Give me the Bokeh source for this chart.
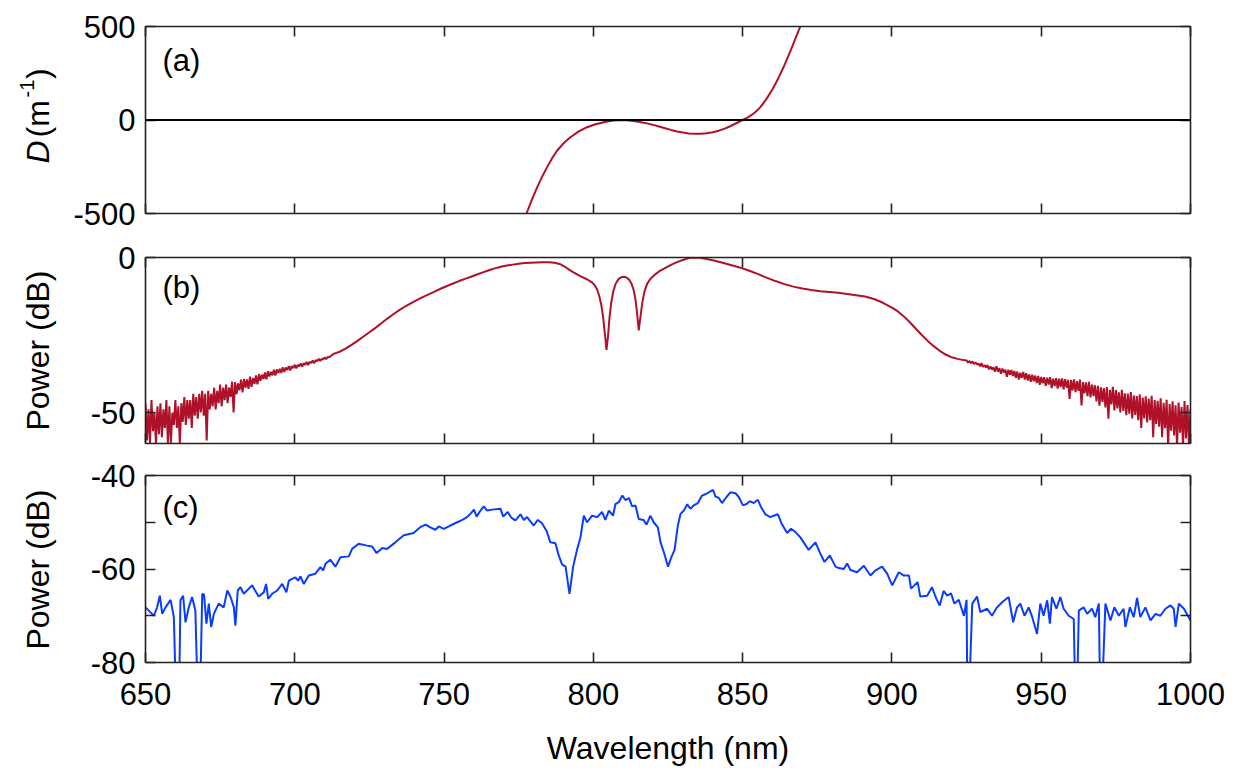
from math import pi

from bokeh.core.properties import value
from bokeh.embed import file_html
from bokeh.layouts import column, row
from bokeh.models import FixedTicker, Label, LinearAxis, Range1d, Span
from bokeh.plotting import figure
from bokeh.resources import INLINE

FONT = "Liberation Sans"
RED = "#AF1228"
BLUE = "#0A3CFF"
AXIS = "#222222"

# ---------------- shared wavelength axis ----------------
wl_ticks = [650, 700, 750, 800, 850, 900, 950, 1000]

# ---------------- (a) dispersion D (1/m) ----------------
disp_wl = [777.6, 779.4, 781.2, 782.85, 784.5, 786.2, 787.9, 790.1, 792.3,
           795.1, 797.9, 800.7, 803.5, 805.15, 806.8, 808.4, 810, 812, 814,
           816, 818, 820, 822, 824, 826, 828, 830, 832, 834, 836, 838, 840,
           842, 844, 846, 848, 850, 851, 852, 853, 854, 855, 856, 858, 860,
           862, 864, 866, 868, 869.3]
disp_val = [-500, -427, -359, -303, -252, -204, -163, -123, -92, -61, -38.5,
            -23, -12, -6.7, -3, -0.8, 0, -3, -7, -12, -18, -26, -35, -44,
            -53, -61, -67, -72, -74, -74, -71, -65, -57, -46, -32, -16, 0, 8,
            17, 27, 39, 53, 70, 113, 164, 225, 293, 368, 448, 500]
disp_ticks = [-500, 0, 500]
disp_tick_text = {-500: "-500", 0: "0", 500: "500"}

# ---------------- (b) simulated spectrum (dB) ----------------
# noisy short-wavelength wing, 0.5 nm spacing starting at 650 nm
wing_left_start = 650.0
wing_left_db = [
    -47, -59, -49, -60, -46, -56, -50, -60, -48, -57,
    -47, -58, -49, -55, -46, -60, -48, -60, -50, -54,
    -46, -55, -48, -60, -47, -53, -45, -54, -46, -52,
    -46, -55, -44, -51, -45, -52, -44, -50, -43, -51,
    -44, -59, -43, -49, -44, -48, -42, -49, -43, -47,
    -41, -48, -42, -46, -41, -47, -42, -45, -40, -50,
    -40.2, -44.1, -40.6, -42.8, -39.4, -43.5, -39.2, -42.0, -39.3, -42.4,
    -38.4, -41.7, -38.9, -40.8, -38.0, -40.9, -37.6, -39.8, -37.8, -39.2,
    -37.1, -39.3, -36.7, -38.4, -36.9, -38.0, -36.2, -38.1, -36.1, -37.3,
    -35.9, -37.2, -35.4, -36.9, -35.5, -36.3, -35.0, -36.4, -35.0, -35.7,
    -34.6, -35.8, -34.6, -35.1, -34.2, -35.2, -34.1, -34.6, -33.7, -34.7,
    -33.6, -34.0, -33.2, -34.1, -33.1, -33.5, -32.7, -33.4, -32.7, -32.9,
    -32.2, -32.8, -32.1, -32.2,
]
# smooth central part
core_wl = [713, 715, 717, 719, 721, 723, 725, 727, 729, 731, 733, 735, 737,
           739, 741, 743, 745, 747, 749, 751, 753, 755, 757, 759, 761, 763,
           765, 767, 769, 771, 773, 775, 777, 779, 781, 783, 785, 787, 789,
           790.5, 792, 793.5, 795, 796.5, 798, 799.5, 800.5, 801.3, 802,
           802.7, 803.3, 803.9, 804.4, 804.9, 805.4, 806, 806.7, 807.5, 808.5,
           809.5, 810.3, 811.2, 812, 812.8, 813.5, 814.1, 814.6, 815.2, 815.8,
           816.4, 817.1, 818, 819, 820.5, 822, 824, 826, 828, 830, 832, 833.6,
           835.5, 837.5, 840, 843, 846, 849, 852, 855, 858, 861, 864, 867,
           870, 873, 876, 879, 882, 885, 888, 891, 894, 897, 900, 902, 904,
           906, 908, 910, 912, 914, 916, 918, 920, 922, 924]
core_db = [-31.1, -30.4, -29.4, -28.2, -26.9, -25.5, -24.1, -22.7, -21.2,
           -19.7, -18.3, -17.0, -15.8, -14.7, -13.7, -12.7, -11.8, -10.9,
           -10.0, -9.2, -8.4, -7.6, -6.9, -6.2, -5.5, -4.8, -4.1, -3.5, -3.0,
           -2.6, -2.3, -2.0, -1.8, -1.7, -1.6, -1.5, -1.5, -1.7, -2.2, -3.0,
           -4.0, -4.9, -5.7, -6.4, -7.1, -8.0, -9.0, -10.4, -12.5, -15.5,
           -19.5, -25.0, -29.8, -25.5, -19.5, -14.5, -10.8, -8.4, -6.9, -6.3,
           -6.2, -6.5, -7.2, -8.5, -10.5, -13.5, -17.5, -23.5, -19.0, -14.5,
           -11.0, -8.5, -7.0, -5.6, -4.5, -3.4, -2.4, -1.5, -0.8, -0.2, 0.0,
           -0.1, -0.4, -0.9, -1.6, -2.4, -3.2, -4.2, -5.3, -6.5, -7.6, -8.6,
           -9.4, -10.0, -10.5, -10.9, -11.1, -11.4, -11.8, -12.2, -12.6,
           -13.4, -14.6, -16.2, -17.4, -19.0, -20.9, -23.0, -25.0, -26.9,
           -28.6, -30.1, -31.3, -32.2, -32.7, -33.1]
# noisy long-wavelength wing, 0.5 nm spacing starting at 925 nm
wing_right_start = 925.0
wing_right_db = [
    -33.2, -33.9, -33.4, -34.1, -33.5, -34.4, -33.8, -34.5, -34.2, -35.1,
    -34.1, -35.3, -34.7, -35.5, -34.7, -36.1, -35.1, -36.2, -35.4, -36.8,
    -35.1, -36.8, -35.7, -37.5, -35.8, -37.1, -36.2, -38.5, -36.2, -37.8,
    -36.3, -38.2, -36.6, -38.8, -36.8, -39.4, -37.2, -38.8, -36.9, -39.4,
    -37.3, -39.7, -37.7, -40.1, -37.8, -39.9, -38.1, -40.5, -38.2, -41.1,
    -38.5, -40.6, -38.6, -41.4, -38.8, -41.0, -38.6, -42.1, -39.1, -41.5,
    -38.9, -42.3, -39.1, -41.8, -39.0, -42.5, -39.2, -42.0, -39.5, -45.6,
    -39.5, -42.9, -39.3, -43.4, -39.9, -43.0, -39.4, -47.7, -40.2, -43.8,
    -40.3, -44.7, -40.1, -45.1, -41.0, -44.7, -41.2, -46.4, -41.4, -47.8,
    -41.9, -46.6, -42.1, -48.4, -41.8, -52.0, -42.7, -47.4, -41.7, -49.3,
    -42.8, -48.7, -43.5, -50.0, -42.7, -49.5, -43.8, -50.9, -43.9, -50.4,
    -43.4, -51.9, -44.5, -50.8, -44.7, -52.5, -44.1, -55.0, -45.2, -51.9,
    -44.8, -53.2, -45.5, -52.5, -44.6, -58.0, -46.0, -53.7, -46.2, -54.6,
    -45.4, -58.0, -46.9, -55.1, -45.9, -61.0, -47.3, -55.9, -46.4, -57.4,
    -47.7, -61.0, -46.8, -56.5, -48.2, -61.0, -46.3, -58.4, -47.6, -61.0,
    -49.0,
]
sim_ticks = [-50, 0]
sim_tick_text = {-50: "-50", 0: "0"}

# ---------------- (c) measured spectrum (dB) ----------------
meas_wl = [
    650.0, 651.1, 652.8, 653.9, 654.8, 655.6, 656.7, 658.4, 659.5, 660.3,
    661.2, 661.7, 662.6, 663.4, 664.5, 665.6, 666.7, 667.6, 668.2, 669.0,
    669.6, 670.4, 671.2, 672.0, 672.9, 674.5, 676.2, 677.4, 678.5, 679.6,
    680.1, 680.9, 681.8, 682.9, 685.7, 687.9, 689.6, 690.4, 691.1, 692.4,
    694.1, 695.8, 697.2, 698.0, 699.1, 700.2, 701.1, 701.9, 703.0, 704.7,
    706.9, 708.6, 709.5, 710.3, 711.9, 713.6, 715.3, 718.1, 719.2, 721.4,
    724.2, 725.9, 727.4, 729.3, 730.9, 733.7, 736.5, 739.8, 741.9, 743.8,
    745.4, 747.1, 748.2, 749.9, 752.1, 754.4, 756.1, 757.7, 758.8, 760.0,
    760.9, 762.2, 763.3, 764.4, 766.1, 768.9, 769.8, 771.3, 772.5, 773.9,
    775.6, 776.7, 777.8, 780.0, 781.4, 782.8, 784.3, 785.6, 787.3, 788.4,
    789.5, 790.7, 792.0, 793.2, 794.6, 795.7, 796.8, 797.9, 799.6, 801.3,
    802.9, 804.0, 805.2, 806.6, 807.4, 808.5, 809.7, 810.8, 811.9, 813.0,
    814.1, 815.2, 816.8, 817.8, 819.1, 820.2, 821.6, 822.5, 823.8, 825.0,
    826.1, 827.2, 828.3, 829.2, 830.3, 831.4, 832.5, 833.6, 835.0, 836.4,
    837.9, 839.2, 840.1, 840.9, 842.0, 843.1, 844.6, 845.9, 847.6, 848.7,
    850.1, 851.3, 852.4, 853.7, 855.1, 856.2, 857.6, 859.3, 860.4, 861.8,
    863.2, 864.9, 866.2, 867.7, 869.4, 872.1, 874.4, 876.1, 877.4, 879.2,
    881.1, 882.2, 883.9, 885.0, 886.1, 888.3, 890.6, 892.8, 894.5, 896.7,
    898.4, 900.1, 902.3, 904.0, 905.7, 906.4, 908.6, 909.5, 911.8, 913.4,
    914.9, 916.0, 917.3, 918.5, 919.8, 920.9, 922.4, 924.1, 925.0, 925.3,
    925.7, 926.9, 928.5, 929.6, 931.9, 933.5, 935.2, 936.9, 939.1, 940.6,
    941.9, 943.0, 944.4, 945.8, 947.0, 948.6, 949.7, 950.8, 952.0, 952.9,
    953.6, 955.1, 956.4, 957.5, 959.2, 960.9, 961.5, 961.9, 962.6, 964.2,
    965.4, 967.0, 968.1, 969.3, 969.8, 970.2, 971.5, 973.2, 974.5, 976.0,
    977.6, 978.2, 979.7, 981.0, 982.1, 983.2, 984.9, 986.6, 988.3, 989.9,
    991.6, 993.3, 994.4, 995.0, 996.1, 997.8, 1000.0,
]
meas_db = [
    -68.2, -68.9, -70.0, -68.2, -65.7, -69.6, -68.2, -66.6, -70.3, -90,
    -90, -66.7, -65.7, -71.4, -68.2, -66.0, -68.9, -90, -90, -65.3,
    -65.5, -71.7, -67.4, -72.4, -69.6, -67.4, -68.2, -64.6, -66.0, -68.2,
    -72.1, -64.6, -63.9, -65.3, -63.5, -65.9, -65.0, -63.2, -66.4, -65.3,
    -64.6, -63.2, -65.0, -62.5, -62.1, -61.8, -62.5, -61.6, -63.2, -61.4,
    -61.0, -59.6, -60.3, -58.9, -58.0, -59.5, -57.5, -57.3, -55.7, -54.6,
    -55.0, -55.2, -56.6, -55.5, -55.7, -54.3, -52.8, -52.3, -51.1, -50.5,
    -51.1, -51.6, -50.9, -51.4, -50.7, -50.0, -49.5, -48.9, -48.2, -47.3,
    -48.8, -47.5, -46.6, -47.5, -47.3, -47.1, -48.8, -47.8, -49.0, -49.6,
    -48.3, -49.5, -48.9, -50.7, -49.5, -50.2, -51.8, -54.3, -54.5, -57.1,
    -59.0, -59.5, -65.3, -59.6, -55.7, -53.2, -48.6, -50.0, -48.6, -48.9,
    -47.8, -49.5, -47.5, -48.6, -46.1, -45.7, -44.3, -45.3, -44.8, -46.6,
    -46.4, -49.3, -49.5, -50.5, -48.6, -50.0, -51.1, -54.3, -56.8, -59.5,
    -57.5, -55.9, -50.7, -48.2, -47.5, -46.2, -47.1, -46.4, -45.9, -44.3,
    -43.9, -43.4, -43.1, -44.5, -44.8, -45.9, -44.6, -43.6, -43.8, -44.6,
    -46.4, -46.1, -45.5, -45.9, -45.2, -46.8, -48.3, -48.9, -48.6, -48.3,
    -50.5, -52.3, -51.4, -52.1, -53.3, -55.9, -54.3, -56.8, -58.5, -57.1,
    -59.5, -59.8, -60.0, -58.8, -60.2, -60.7, -59.3, -61.4, -60.3, -59.5,
    -61.0, -63.5, -60.7, -61.4, -61.4, -64.2, -62.8, -65.9, -65.7, -63.9,
    -66.4, -67.8, -64.7, -65.7, -65.2, -67.4, -66.6, -70.0, -66.6, -90,
    -90, -67.4, -65.9, -69.2, -68.5, -70.0, -68.2, -67.1, -66.0, -71.4,
    -68.2, -67.4, -70.0, -68.2, -70.3, -73.9, -67.4, -70.0, -66.7, -71.7,
    -66.0, -68.5, -66.0, -68.5, -70.0, -70.7, -90, -90, -68.9, -68.2,
    -69.6, -68.5, -70.3, -67.4, -90, -90, -67.4, -71.0, -68.2, -70.0,
    -68.5, -72.4, -68.2, -70.3, -66.2, -70.3, -68.2, -71.0, -69.6, -70.0,
    -68.5, -67.8, -68.5, -72.4, -67.4, -68.5, -71.0,
]
meas_ticks = [-80, -70, -60, -50, -40]
meas_tick_text = {-80: "-80", -70: "", -60: "-60", -50: "", -40: "-40"}

# assemble the simulated spectrum on one wavelength axis
sim_wl = ([wing_left_start + 0.5 * i for i in range(len(wing_left_db))]
          + core_wl
          + [wing_right_start + 0.5 * i for i in range(len(wing_right_db))])
sim_db = wing_left_db + core_db + wing_right_db

TOTAL_H = 783
LABEL_W = 70


def style_axis(ax, ticks, show_labels=True, overrides=None):
    ax.ticker = FixedTicker(ticks=ticks)
    ax.major_tick_in = 10
    ax.major_tick_out = 0
    ax.minor_tick_line_color = None
    ax.axis_line_color = AXIS
    ax.axis_line_width = 1.6
    ax.major_tick_line_color = AXIS
    ax.major_tick_line_width = 1.6
    ax.major_label_text_font = FONT
    if show_labels:
        ax.major_label_text_color = "black"
        ax.major_label_text_font_size = "31px"
    else:
        # tick marks only: labels are neither drawn nor given room
        ax.major_label_text_color = None
        ax.major_label_text_font_size = "1px"
        ax.major_label_standoff = 0
    if overrides:
        ax.major_label_overrides = overrides


def panel(y_lo, y_hi, y_ticks, frame_h, top, bottom, x_labels, y_overrides):
    p = figure(frame_width=1045, frame_height=frame_h,
               x_range=Range1d(650, 1000), y_range=Range1d(y_lo, y_hi),
               output_backend="svg", toolbar_location=None,
               x_axis_location=None, y_axis_location=None,
               min_border_left=145 - LABEL_W, min_border_right=61,
               min_border_top=top, min_border_bottom=bottom)
    p.grid.visible = False
    p.outline_line_color = None
    bottom_ax = LinearAxis()
    style_axis(bottom_ax, wl_ticks, show_labels=x_labels)
    if x_labels:
        bottom_ax.major_label_standoff = 20
    p.add_layout(bottom_ax, "below")
    left_ax = LinearAxis()
    style_axis(left_ax, y_ticks, overrides=y_overrides)
    left_ax.major_label_standoff = 10
    p.add_layout(left_ax, "left")
    top_ax = LinearAxis()
    style_axis(top_ax, wl_ticks, show_labels=False)
    p.add_layout(top_ax, "above")
    right_ax = LinearAxis()
    style_axis(right_ax, y_ticks, show_labels=False)
    p.add_layout(right_ax, "right")
    return p, bottom_ax


def tag(p, text, y):
    p.add_layout(Label(x=655.7, y=y, text=text, text_align="left",
                       text_baseline="middle", text_font=FONT,
                       text_font_size="31px", text_color="black"))


# (a)
pa, _ = panel(-500, 500, disp_ticks, 187, 26, 22, False, disp_tick_text)
pa.add_layout(Span(location=0, dimension="width", line_color="black", line_width=2.2))
pa.line(disp_wl, disp_val, line_color=RED, line_width=2)
tag(pa, "(a)", 318)

# (b)
pb, _ = panel(-60, 0, sim_ticks, 186, 22, 16, False, sim_tick_text)
pb.line(sim_wl, sim_db, line_color=RED, line_width=2)
tag(pb, "(b)", -9.7)

# (c)
pc, pc_bottom = panel(-80, -40, meas_ticks, 187, 16, 121, True, meas_tick_text)
pc.line(meas_wl, meas_db, line_color=BLUE, line_width=2)
tag(pc, "(c)", -46.8)
pc_bottom.axis_label = "Wavelength (nm)"
pc_bottom.axis_label_text_font = FONT
pc_bottom.axis_label_text_font_size = "32px"
pc_bottom.axis_label_text_font_style = "normal"
pc_bottom.axis_label_text_color = "black"
pc_bottom.axis_label_standoff = 22

# strip on the left carrying the rotated y-axis titles (pixel coordinates, origin bottom-left)
lab = figure(width=LABEL_W, height=TOTAL_H, x_range=Range1d(0, LABEL_W),
             y_range=Range1d(0, TOTAL_H), output_backend="svg",
             toolbar_location=None, x_axis_location=None, y_axis_location=None,
             min_border=0)
lab.grid.visible = False
lab.outline_line_color = None

BASE_X = 37


def vtext(x, y, text, size="32px", style="normal", align="left"):
    lab.text(x=[x], y=[y], text=[text], angle=pi / 2, text_align=align,
             text_baseline="alphabetic", text_font=value(FONT),
             text_font_size=size, text_font_style=style, text_color="black")


# D (m^-1), built from pieces so that D is italic and -1 is a superscript
vtext(BASE_X, TOTAL_H - 163, "D", style="italic")
vtext(BASE_X, TOTAL_H - 137, "(m")
vtext(BASE_X - 11, TOTAL_H - 97, "-1", size="20px")
vtext(BASE_X, TOTAL_H - 78.5, ")")
vtext(BASE_X, TOTAL_H - 350, "Power (dB)", align="center")
vtext(BASE_X, TOTAL_H - 569, "Power (dB)", align="center")

layout = row(lab, column(pa, pb, pc, spacing=0), spacing=0)

with open("out.html", "w") as f:
    f.write(file_html(layout, INLINE))
